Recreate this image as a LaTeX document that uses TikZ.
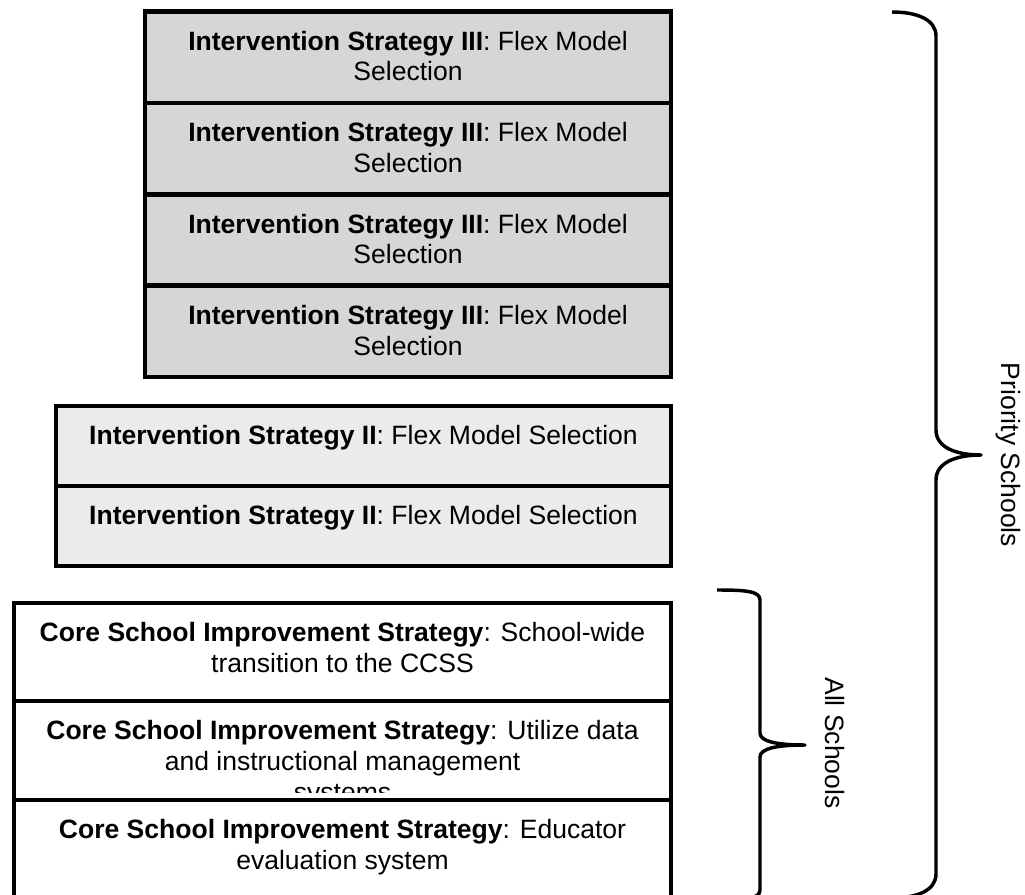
\documentclass[tikz,border=0pt]{standalone}
\usepackage{fontspec}
\setmainfont{Liberation Sans}
\usetikzlibrary{positioning}

\tikzset{
	row/.style={draw, line width=3.5pt, outer sep=0pt, inner sep=0pt},
	rowtext/.style={align=center, inner sep=0pt, font=\fontsize{19.9}{22.9}\selectfont},
	brace/.style={line width=2.6pt, line join=round},
}

\begin{document}
\begin{tikzpicture}[x=0.75pt, y=-0.75pt]
	\clip (0,0) rectangle (1025,895);

	% Rows
	\node[row, fill=black!16, minimum width=394.5pt, minimum height=68.55pt] (A1) at (408,57.2) {};
	\node[row, fill=black!16, minimum width=394.5pt, minimum height=68.55pt] (A2) at (408,148.6) {};
	\node[row, fill=black!16, minimum width=394.5pt, minimum height=68.55pt] (A3) at (408,239.9) {};
	\node[row, fill=black!16, minimum width=394.5pt, minimum height=68.55pt] (A4) at (408,331.3) {};
	\node[row, fill=black!8, minimum width=461.25pt, minimum height=60pt] (B1) at (363.5,446) {};
	\node[row, fill=black!8, minimum width=461.25pt, minimum height=60pt] (B2) at (363.5,526) {};
	\node[row, minimum width=492.75pt, minimum height=73.5pt] (C1) at (342.5,652) {};
	\node[row, minimum width=492.75pt, minimum height=74.25pt] (C2) at (342.5,750.5) {};
	\node[row, minimum width=492.75pt, minimum height=78.75pt] (C3) at (342.5,852.5) {};

	% Texts
	\node[rowtext, below=14.6pt of A1.north] (tA1) {\textbf{Intervention Strategy III}: Flex Model\\Selection};
	\node[rowtext, below=14.6pt of A2.north] (tA2) {\textbf{Intervention Strategy III}: Flex Model\\Selection};
	\node[rowtext, below=14.6pt of A3.north] (tA3) {\textbf{Intervention Strategy III}: Flex Model\\Selection};
	\node[rowtext, below=14.6pt of A4.north] (tA4) {\textbf{Intervention Strategy III}: Flex Model\\Selection};
	\node[rowtext, below=14.6pt of B1.north] (tB1) {\textbf{Intervention Strategy II}: Flex Model Selection};
	\node[rowtext, below=14.6pt of B2.north] (tB2) {\textbf{Intervention Strategy II}: Flex Model Selection};
	\node[rowtext, below=14.6pt of C1.north] (tC1) {\textbf{Core School Improvement Strategy}: School-wide\\transition to the CCSS};
	\begin{scope}
		\clip (14,701) rectangle (671,792);
		\node[rowtext, below=14.6pt of C2.north] (tC2) {\textbf{Core School Improvement Strategy}: Utilize data\\and instructional management\\systems};
	\end{scope}
	\node[rowtext, below=14.6pt of C3.north] (tC3) {\textbf{Core School Improvement Strategy}: Educator\\evaluation system};

	% Braces
	\coordinate (Ptop) at (892,12);
	\coordinate (Ptip) at (981,455);
	\coordinate (Pbot) at (892,898);
	\coordinate (Atop) at (717,590);
	\coordinate (Atip) at (805,745);
	\coordinate (Abot) at (717,900);
	\draw[brace] (Ptop) .. controls (918,12) and (936,20) .. (936,36) -- (936,430)
		.. controls (936,447) and (955,455) .. (Ptip)
		.. controls (955,455) and (936,463) .. (936,480) -- (936,874)
		.. controls (936,890) and (918,898) .. (Pbot);
	\draw[brace] (Atop) .. controls (745,590) and (760,591) .. (760,600) -- (760,733)
		.. controls (760,741) and (775,745) .. (Atip)
		.. controls (775,745) and (760,749) .. (760,757) -- (760,890)
		.. controls (760,899) and (745,900) .. (Abot);

	% Labels
	\node[rowtext, rotate=-90, anchor=base] (Lp) at (1001,455) {Priority Schools};
	\node[rowtext, rotate=-90, anchor=base] (La) at (825,743) {All Schools};
\end{tikzpicture}
\end{document}
